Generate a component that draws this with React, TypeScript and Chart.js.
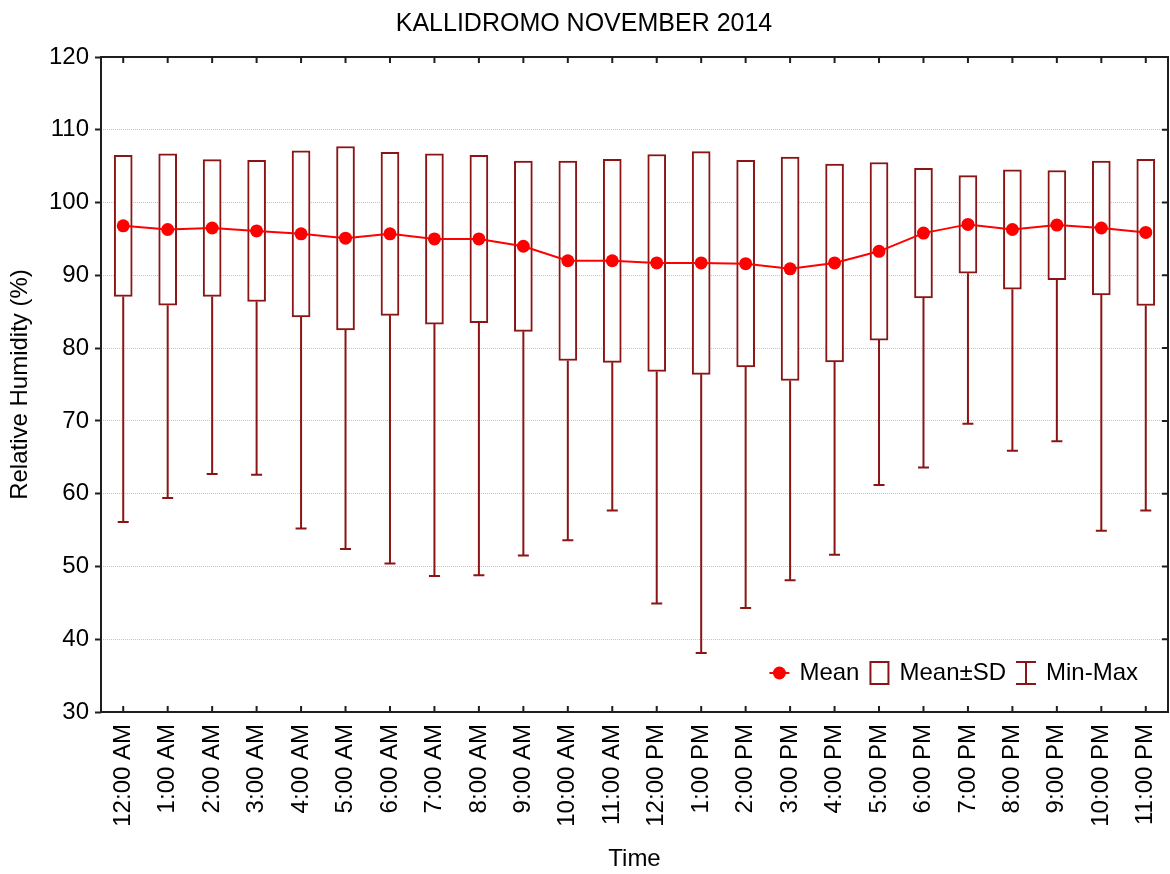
import React, { useEffect, useRef } from 'react';
import { Chart, registerables } from 'chart.js';

Chart.register(...registerables);

const hours = [
  '12:00 AM', '1:00 AM', '2:00 AM', '3:00 AM', '4:00 AM', '5:00 AM',
  '6:00 AM', '7:00 AM', '8:00 AM', '9:00 AM', '10:00 AM', '11:00 AM',
  '12:00 PM', '1:00 PM', '2:00 PM', '3:00 PM', '4:00 PM', '5:00 PM',
  '6:00 PM', '7:00 PM', '8:00 PM', '9:00 PM', '10:00 PM', '11:00 PM',
];

const meanValues = [
  96.8, 96.3, 96.5, 96.1, 95.7, 95.1, 95.7, 95.0, 95.0, 94.0, 92.0, 92.0,
  91.7, 91.7, 91.6, 90.9, 91.7, 93.3, 95.8, 97.0, 96.3, 96.9, 96.5, 95.9,
];

const sdValues = [
  9.7, 10.4, 9.4, 9.7, 11.4, 12.6, 11.2, 11.7, 11.5, 11.7, 13.7, 13.95,
  14.9, 15.3, 14.2, 15.35, 13.6, 12.2, 8.9, 6.7, 8.2, 7.5, 9.2, 10.05,
];

const minValues = [
  56.1, 59.4, 62.7, 62.6, 55.2, 52.4, 50.4, 48.7, 48.8, 51.5, 53.6, 57.7,
  44.9, 38.1, 44.3, 48.1, 51.6, 61.2, 63.6, 69.6, 65.9, 67.2, 54.9, 57.7,
];

const yMin = 30;
const yMax = 120;
const yStep = 10;

const chartTitle = 'KALLIDROMO NOVEMBER 2014';
const xTitle = 'Time';
const yTitle = 'Relative Humidity (%)';
const legendLabels = ['Mean', 'Mean±SD', 'Min-Max'];

const BOX_COLOR = '#8b1515';
const MEAN_COLOR = '#ff0000';
const FRAME_COLOR = '#1e1e1e';
const FONT = "'Liberation Sans', Arial, sans-serif";

const whiskerPlugin = {
  id: 'whiskers',
  beforeDatasetsDraw(chart: any) {
    const { ctx, scales } = chart;
    const x = scales.x;
    const y = scales.y;
    ctx.save();
    ctx.strokeStyle = BOX_COLOR;
    ctx.lineWidth = 2;
    hours.forEach((_, i) => {
      const px = x.getPixelForValue(i);
      const low = y.getPixelForValue(meanValues[i] - sdValues[i]);
      const mn = y.getPixelForValue(minValues[i]);
      ctx.beginPath();
      ctx.moveTo(px, low);
      ctx.lineTo(px, mn);
      ctx.moveTo(px - 5.5, mn);
      ctx.lineTo(px + 5.5, mn);
      ctx.stroke();
    });
    ctx.restore();
  },
};

const framePlugin = {
  id: 'frame',
  afterDraw(chart: any) {
    const { ctx, chartArea, scales } = chart;
    const { left, right, top, bottom } = chartArea;
    const x = scales.x;
    const y = scales.y;
    ctx.save();
    ctx.strokeStyle = FRAME_COLOR;
    ctx.lineWidth = 2;
    ctx.strokeRect(left, top, right - left, bottom - top);
    ctx.beginPath();
    hours.forEach((_, i) => {
      const px = x.getPixelForValue(i);
      ctx.moveTo(px, top);
      ctx.lineTo(px, top + 6);
      ctx.moveTo(px, bottom);
      ctx.lineTo(px, bottom - 6);
    });
    for (let v = yMin; v <= yMax; v += yStep) {
      const py = y.getPixelForValue(v);
      ctx.moveTo(right, py);
      ctx.lineTo(right - 6, py);
    }
    ctx.stroke();

    // legend
    ctx.font = `24px ${FONT}`;
    ctx.fillStyle = '#000';
    ctx.textBaseline = 'middle';
    ctx.textAlign = 'left';
    const iconW = 20;
    const gapIcon = 10;
    const gapItem = 10;
    const widths = legendLabels.map((t) => ctx.measureText(t).width);
    const total = widths.reduce((a, b) => a + b, 0) + legendLabels.length * (iconW + gapIcon) + (legendLabels.length - 1) * gapItem;
    let cx = right - 30 - total;
    const cy = bottom - 39;
    legendLabels.forEach((label, k) => {
      if (k === 0) {
        ctx.strokeStyle = MEAN_COLOR;
        ctx.lineWidth = 2;
        ctx.beginPath();
        ctx.moveTo(cx, cy);
        ctx.lineTo(cx + iconW, cy);
        ctx.stroke();
        ctx.fillStyle = MEAN_COLOR;
        ctx.beginPath();
        ctx.arc(cx + iconW / 2, cy, 6.5, 0, Math.PI * 2);
        ctx.fill();
      } else if (k === 1) {
        ctx.strokeStyle = BOX_COLOR;
        ctx.lineWidth = 2;
        ctx.strokeRect(cx + 1, cy - 11, iconW - 2, 22);
      } else {
        ctx.strokeStyle = BOX_COLOR;
        ctx.lineWidth = 2;
        ctx.beginPath();
        ctx.moveTo(cx + iconW / 2, cy - 11);
        ctx.lineTo(cx + iconW / 2, cy + 11);
        ctx.moveTo(cx, cy - 11);
        ctx.lineTo(cx + iconW, cy - 11);
        ctx.moveTo(cx, cy + 11);
        ctx.lineTo(cx + iconW, cy + 11);
        ctx.stroke();
      }
      cx += iconW + gapIcon;
      ctx.fillStyle = '#000';
      ctx.fillText(label, cx, cy);
      cx += widths[k] + gapItem;
    });
    ctx.restore();
  },
};

export default function App() {
  const canvasRef = useRef<HTMLCanvasElement | null>(null);

  useEffect(() => {
    document.body.style.margin = '0';
    const canvas = canvasRef.current;
    if (!canvas) return;
    Chart.defaults.font.family = FONT;
    Chart.defaults.color = '#000';

    const boxData = meanValues.map((m, i) => [m - sdValues[i], m + sdValues[i]]);

    const chart = new Chart(canvas, {
      type: 'bar',
      data: {
        labels: hours,
        datasets: [
          {
            type: 'line',
            label: 'Mean',
            data: meanValues,
            borderColor: MEAN_COLOR,
            backgroundColor: MEAN_COLOR,
            borderWidth: 2,
            pointRadius: 6.5,
            pointBorderWidth: 0,
            pointBackgroundColor: MEAN_COLOR,
            tension: 0,
            order: 0,
          } as any,
          {
            type: 'bar',
            label: 'Mean±SD',
            data: boxData as any,
            backgroundColor: '#ffffff',
            borderColor: BOX_COLOR,
            borderWidth: 2,
            borderSkipped: false,
            barThickness: 18,
            order: 1,
          } as any,
        ],
      },
      options: {
        responsive: false,
        animation: false,
        events: [],
        layout: { autoPadding: false, padding: { left: 0, right: 2, top: 0, bottom: 0 } },
        plugins: {
          legend: { display: false },
          tooltip: { enabled: false },
          title: {
            display: true,
            text: chartTitle,
            color: '#000',
            font: { size: 25, weight: 'normal', lineHeight: 1.2, family: FONT },
            padding: { top: 9, bottom: 18 },
          },
        },
        scales: {
          x: {
            type: 'category',
            offset: true,
            grid: { display: false, drawTicks: false },
            border: { display: false },
            ticks: {
              autoSkip: false,
              maxRotation: 90,
              minRotation: 90,
              padding: 12,
              color: '#000',
              font: { size: 24, family: FONT },
            },
            title: {
              display: true,
              text: xTitle,
              color: '#000',
              font: { size: 24, family: FONT, lineHeight: 1.2 },
              padding: { top: 0, bottom: 0 },
            },
            afterFit: (scale: any) => {
              scale.height = 162;
              scale.paddingLeft = 0;
              scale.paddingRight = 0;
            },
          },
          y: {
            type: 'linear',
            min: yMin,
            max: yMax,
            ticks: {
              stepSize: yStep,
              padding: 6,
              color: '#000',
              font: { size: 24, family: FONT },
            },
            grid: {
              color: '#c4c4c4',
              lineWidth: 1,
              tickColor: FRAME_COLOR,
              tickWidth: 2,
              tickLength: 6,
            },
            border: { display: false, dash: [1, 1] },
            title: {
              display: true,
              text: yTitle,
              color: '#000',
              font: { size: 24, family: FONT, lineHeight: 1.2 },
              padding: { top: 6, bottom: 0 },
            },
            afterFit: (scale: any) => {
              scale.width = 101;
              scale.paddingTop = 0;
              scale.paddingBottom = 0;
            },
          },
        },
      } as any,
      plugins: [whiskerPlugin, framePlugin],
    });

    return () => {
      chart.destroy();
    };
  }, []);

  return (
    <div style={{ position: 'absolute', left: 0, top: 0, width: 1170, height: 874 }}>
      <canvas ref={canvasRef} width={1170} height={874} />
    </div>
  );
}
